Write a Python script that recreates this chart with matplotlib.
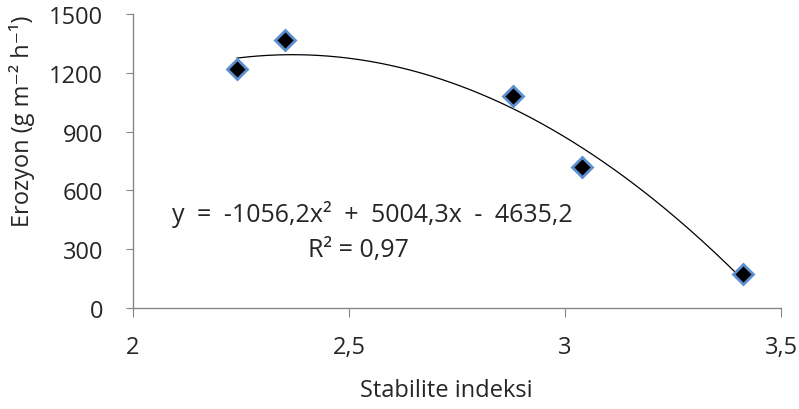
import numpy as np
import matplotlib
matplotlib.use("Agg")
import matplotlib.pyplot as plt

# data
stab_x = [2.241, 2.352, 2.880, 3.039, 3.412]
erozyon_y = [1217, 1367, 1082, 719, 172]
coef = [-1056.2, 5004.3, -4635.2]
xticks = [2, 2.5, 3, 3.5]
xtick_labels = ["2", "2,5", "3", "3,5"]
yticks = [0, 300, 600, 900, 1200, 1500]
eq_text = "y\u2002=\u2002-1056,2x²\u2002+\u20025004,3x\u2002-\u20024635,2"
r2_text = "R² = 0,97"

plt.rcParams['font.family'] = ['Open Sans', 'DejaVu Sans']
FS = 17
TC = '#262626'

fig = plt.figure(figsize=(7.99, 4.10), dpi=100)
ax = fig.add_axes([133/799, 1-309/410, (781-133)/799, (309-15)/410])

xs = np.linspace(min(stab_x), max(stab_x), 200)
ax.plot(xs, np.polyval(coef, xs), color='black', lw=0.9, zorder=2)
ax.plot(stab_x, erozyon_y, linestyle='none', marker='D', ms=10,
        mfc='black', mec='#5b8fd0', mew=2, zorder=3, clip_on=False)

ax.set_xlim(2, 3.5)
ax.set_ylim(0, 1500)
ax.set_xticks(xticks)
ax.set_xticklabels(xtick_labels)
ax.set_yticks(yticks)

for s in ['top', 'right']:
    ax.spines[s].set_visible(False)
for s in ['left', 'bottom']:
    ax.spines[s].set_color('#868686')
    ax.spines[s].set_linewidth(1)
ax.tick_params(axis='both', direction='out', color='#868686',
               labelsize=FS, labelcolor=TC)
ax.tick_params(axis='x', length=6.5, pad=13)
ax.tick_params(axis='y', length=5, pad=16.5)

ax.set_xlabel("Stabilite indeksi", fontsize=FS, color=TC)
ax.xaxis.set_label_coords((446-133)/648, -(391-309)/294)
ax.xaxis.label.set_va('center')
ax.set_ylabel("Erozyon (g m⁻² h⁻¹)", fontsize=FS, color=TC)
ax.yaxis.set_label_coords(-(133-22)/648, (309-121)/294)
ax.yaxis.label.set_va('center')

ax.text(2.553, 480, eq_text, ha='center', va='center', fontsize=18, color=TC)
ax.text(2.521, 300, r2_text, ha='center', va='center', fontsize=18, color=TC)

fig.savefig("out.png", dpi=100)
